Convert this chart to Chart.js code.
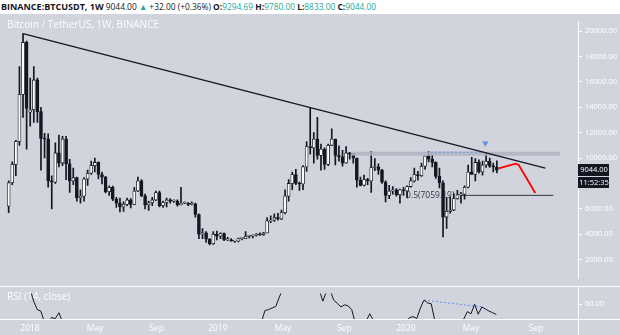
<!DOCTYPE html>
<html>
<head>
<meta charset="utf-8">
<script src="https://cdn.jsdelivr.net/npm/chart.js@4.4.0/dist/chart.umd.min.js"></script>
<style>
  html, body { margin: 0; padding: 0; background: #fff; }
  body { width: 620px; height: 335px; position: relative; overflow: hidden; font-family: "Open Sans", sans-serif; }
  #head { position: absolute; left: 1px; top: 0; height: 14px; font-size: 8.4px; line-height: 13px; color: #131722; white-space: nowrap; }
  #head b { font-weight: 700; }
  #head b.sym { font-size: 9px; }
  #head .up { color: #26a69a; }
  canvas { position: absolute; left: 0; background: #d1d4dc; }
  #price { top: 14px; }
  #rsi { top: 286px; }
</style>
</head>
<body>
<div id="head"></div>
<canvas id="price" width="620" height="272"></canvas>
<canvas id="rsi" width="620" height="49"></canvas>
<script>
// weekly candles, week index counted from the week of 1 Jan 2018
const firstWeek = -7;
const opens = [6200, 8050, 9500, 11300, 15000, 19100, 13600,
  13800, 16150, 13650, 11550, 11500, 8200, 8100, 10400, 9600, 11500, 9550, 8200, 8450, 6850, 7000, 8350, 8800, 9400, 9650, 8700, 8500, 7350, 7700, 6750, 6450, 6150, 6350, 6700, 6350, 7400, 8200, 7030, 6300, 6480, 6700, 7280, 6250, 6500, 6700, 6600, 6600, 6300, 6450, 6450, 6350, 6400, 5550, 4000, 4100, 3600, 3250, 4000,
  3850, 4050, 3550, 3550, 3450, 3450, 3650, 3650, 3830, 3850, 3900, 4000, 3950, 4100, 5050, 5100, 5300, 5200, 5700, 7000, 8000, 8700, 8000, 7950, 9300, 10900, 10800, 11500, 10200, 10700, 9500, 11000, 11500, 10200, 10100, 9600, 10400, 10300, 10000, 8250, 7850, 8300, 8200, 9250, 9300, 9050, 8100, 7050, 7400, 7500, 7100, 7500,
  7400, 7750, 8200, 8700, 8600, 9350, 10150, 9900, 9650, 8550, 8050, 5350, 5800, 5900, 6800, 7100, 7150, 7700, 8900, 8700, 9650, 8900, 9450, 9750, 9350, 9294.69];
const highs = [8200, 9700, 11400, 17200, 19800, 19200, 16300,
  17200, 16300, 14000, 11950, 11900, 8600, 11200, 11800, 11700, 11700, 9900, 9200, 8500, 7500, 8450, 9050, 9750, 9990, 9700, 8900, 8550, 7800, 7780, 6900, 6850, 6550, 6850, 6800, 7700, 8500, 8300, 7150, 6600, 6900, 7400, 7400, 6600, 6850, 6800, 6700, 6700, 7700, 6550, 6500, 6550, 6450, 5600, 4450, 4200, 3650, 4200, 4250,
  4100, 4100, 3750, 3650, 3500, 3700, 3700, 4200, 3900, 3950, 4050, 4100, 4150, 5300, 5450, 5600, 5650, 5900, 7500, 8300, 8900, 9100, 8100, 9400, 11300, 13970, 12000, 13200, 11100, 10800, 11100, 12300, 11500, 10950, 10600, 10900, 10450, 10350, 10000, 8500, 8650, 8400, 10500, 9950, 9550, 9100, 8200, 7850, 7750, 7600, 7550, 7700,
  7800, 8450, 9200, 8950, 9600, 10150, 10500, 10250, 9700, 9200, 8200, 6900, 6950, 7200, 7450, 7300, 7800, 9450, 10050, 9950, 9850, 9750, 10400, 10000, 9600, 9780];
const lows = [5700, 7900, 8600, 11000, 13200, 10700, 12500,
  12800, 12800, 9050, 10000, 7700, 6000, 8000, 9300, 9400, 8300, 7300, 7900, 6600, 6450, 6600, 7850, 8700, 8900, 8350, 7950, 7250, 7050, 6650, 6100, 5750, 5800, 6250, 6070, 6330, 7350, 6950, 6000, 5880, 6250, 6650, 6150, 6100, 6150, 6450, 6500, 6200, 6300, 6400, 6250, 6300, 5350, 3650, 3650, 3350, 3150, 3200, 3550,
  3650, 3500, 3500, 3450, 3350, 3400, 3550, 3650, 3700, 3700, 3850, 3900, 3900, 4100, 4900, 5000, 5100, 5150, 5600, 6600, 7500, 7900, 7450, 7500, 8950, 10300, 9600, 9900, 9050, 9100, 9400, 11000, 9450, 9750, 9350, 9600, 9900, 9600, 7700, 7800, 7800, 7900, 7300, 9000, 8700, 8000, 6550, 6800, 7150, 7000, 6450, 7050,
  6850, 7700, 8100, 8250, 8550, 9100, 9700, 9300, 8400, 7650, 3780, 4450, 5650, 5850, 6750, 6450, 6750, 7650, 8700, 8200, 8800, 8650, 9250, 9250, 8900, 8833];
const closes = [8050, 9500, 11300, 15000, 19100, 13900, 13800,
  16150, 13650, 11550, 11500, 8200, 8100, 10400, 9600, 11500, 9550, 8200, 8450, 6850, 7000, 8350, 8800, 9400, 9650, 8700, 8500, 7350, 7700, 6750, 6450, 6150, 6350, 6700, 6350, 7400, 8200, 7030, 6300, 6480, 6700, 7280, 6250, 6500, 6700, 6600, 6600, 6300, 6450, 6450, 6350, 6400, 5550, 4000, 4100, 3600, 3250, 4000, 3850,
  4050, 3550, 3550, 3450, 3450, 3650, 3650, 3830, 3850, 3900, 4000, 3950, 4100, 5050, 5100, 5300, 5200, 5700, 7000, 8000, 8700, 8000, 7950, 9300, 10900, 10800, 11500, 10200, 10700, 9500, 11000, 11500, 10200, 10100, 9600, 10400, 10300, 10000, 8250, 7850, 8300, 8200, 9250, 9300, 9050, 8100, 7050, 7400, 7500, 7100, 7500, 7400,
  7750, 8200, 8700, 8600, 9350, 10150, 9900, 9650, 8550, 8050, 5350, 5800, 5900, 6800, 7100, 7150, 7700, 8900, 8700, 9650, 8900, 9450, 9750, 9350, 9300, 9044];

// RSI(14) pieces that fall inside the visible band
const rsiSegStart = [0, 64, 80, 93, 104, 119];
const rsiSegValues = [
  [75, 63, 55, 53.5, 43, 42, 47.5, 46.3, 52, 43],
  [43, 54, 55, 56.5, 58, 67, 75],
  [74, 63, 72, 74, 64, 61, 57.5, 59.5, 58.5, 55, 42],
  [44, 51, 44.5],
  [44, 47.3, 48.2, 46.5, 56.5, 64, 61.3, 60.5, 44],
  [44, 46, 53, 51, 60, 50.5, 57.5, 55.5, 53.5, 52, 50.3]
];

// drawings
const trendWeeks = [-3, 142.5];
const trendPrices = [19800, 9195];
const rangeWeeks = [88.5, 146.5];
const rangePrices = [10330, 10330];
const topWeeks = [109.5, 125.5];
const topPrices = [10460, 10460];
const fibWeeks = [119, 144.7];
const fibPrices = [7059.19, 7059.19];
const fibLabelWeek = 103.7;
const pathWeeks = [129.55, 134.2, 135.1, 139.7];
const pathPrices = [9180, 9552, 9455, 7245];
const markerWeek = 125.8;
const markerPrice = 11170;
const divWeeks = [109, 125];
const divValues = [64, 57.5];

// axes
const xMin = -8.3, xMax = 151.6;
const priceMin = 512, priceMax = 20749;
const priceTicks = [2000, 4000, 6000, 10000, 12000, 14000, 16000, 18000, 20000];
const rsiMin = 46, rsiMax = 70.3;
const rsiTicks = [60];
const tickWeeks = [0, 18, 35, 52, 70, 87, 104, 122, 140];
const tickNames = ['2018', 'May', 'Sep', '2019', 'May', 'Sep', '2020', 'May', 'Sep'];
const countdown = '11:52:35';

const dark = '#131722';
const white = '#ffffff';
const blue = '#5b8ff0';

const last = closes.length - 1;
document.getElementById('head').innerHTML =
  '<b class="sym">BINANCE:BTCUSDT, 1W</b> ' + closes[last].toFixed(2) +
  ' <span class="up">&#9650;</span> +32.00 (+0.36%) ' +
  '<b>O:</b><span class="up">' + opens[last].toFixed(2) + '</span> ' +
  '<b>H:</b><span class="up">' + highs[last].toFixed(2) + '</span> ' +
  '<b>L:</b><span class="up">' + lows[last].toFixed(2) + '</span> ' +
  '<b>C:</b><span class="up">' + closes[last].toFixed(2) + '</span>';

const weeks = opens.map((_, i) => firstWeek + i);
const bodies = weeks.map((w, i) => ({ x: w, y: [opens[i], closes[i]] }));
const wicks = weeks.map((w, i) => ({ x: w, y: [lows[i], highs[i]] }));
const bodyColors = weeks.map((_, i) => closes[i] >= opens[i] ? white : dark);
const pts = (xs, ys) => xs.map((x, i) => ({ x: x, y: ys[i] }));

const line = (data, color, width, dash) => ({
  type: 'line', data: data, borderColor: color, borderWidth: width,
  borderDash: dash || [], pointRadius: 0, order: 0
});

const priceOverlay = {
  id: 'priceOverlay',
  beforeDatasetsDraw(chart) {
    const c = chart.ctx, x = chart.scales.x, y = chart.scales.y;
    c.save();
    c.font = '10px "Open Sans"';
    c.fillStyle = 'rgba(255,255,255,0.95)';
    c.textBaseline = 'middle';
    c.fillText('Bitcoin / TetherUS, 1W, BINANCE', 7, 11);
    c.fillStyle = 'rgba(19,23,34,0.85)';
    c.font = '8.5px "Open Sans"';
    c.fillText('0.5(' + fibPrices[0].toFixed(2) + ')', x.getPixelForValue(fibLabelWeek), y.getPixelForValue(fibPrices[0]));
    c.restore();
  },
  afterDraw(chart) {
    const c = chart.ctx, a = chart.chartArea, y = chart.scales.y;
    const py = Math.round(y.getPixelForValue(closes[last]));
    c.save();
    c.fillStyle = dark;
    c.fillRect(a.right, py - 6, 31, 12);
    c.fillRect(a.right, py + 7, 31, 11);
    c.fillStyle = white;
    c.font = '7.5px "Open Sans"';
    c.textBaseline = 'middle';
    c.textAlign = 'center';
    c.fillText(closes[last].toFixed(2), a.right + 16, py);
    c.fillText(countdown, a.right + 16, py + 12.5);
    c.restore();
  }
};

new Chart(document.getElementById('price'), {
  type: 'bar',
  data: {
    datasets: [
      line(pts(trendWeeks, trendPrices), dark, 1.3),
      line(pts(pathWeeks, pathPrices), '#ff0000', 1.8),
      line(pts(fibWeeks, fibPrices), 'rgba(19,23,34,0.85)', 1),
      line(pts(topWeeks, topPrices), blue, 1, [2, 2]),
      { type: 'scatter', data: [{ x: markerWeek, y: markerPrice }], pointStyle: 'triangle', rotation: 180,
        pointRadius: 3.5, backgroundColor: blue, borderWidth: 0, order: 0 },
      { data: bodies, backgroundColor: bodyColors, borderColor: dark, borderWidth: 0.8,
        borderSkipped: false, barThickness: 3, minBarLength: 1, order: 2 },
      { data: wicks, backgroundColor: dark, barThickness: 1, order: 3 },
      line(pts(rangeWeeks, rangePrices), 'rgba(176,180,190,0.85)', 4)
    ]
  },
  options: {
    responsive: false, animation: false, devicePixelRatio: 1,
    layout: { padding: 0 },
    datasets: { bar: { grouped: false } },
    plugins: { legend: { display: false }, tooltip: { enabled: false } },
    scales: {
      x: { type: 'linear', min: xMin, max: xMax, display: false, offset: false },
      y: {
        position: 'right', min: priceMin, max: priceMax,
        afterBuildTicks: s => { s.ticks = priceTicks.map(v => ({ value: v })); },
        afterFit: s => { s.width = 42; },
        ticks: { callback: v => v.toFixed(2), color: white, font: { family: 'Open Sans', size: 7.5 }, padding: 3 },
        grid: { drawOnChartArea: false, tickLength: 4, color: white },
        border: { color: white }
      }
    }
  },
  plugins: [priceOverlay]
});

const rsiPoints = [];
rsiSegStart.forEach((s, k) => {
  rsiSegValues[k].forEach((v, j) => rsiPoints.push({ x: s + j, y: v }));
  rsiPoints.push({ x: s + rsiSegValues[k].length, y: null });
});

const rsiOverlay = {
  id: 'rsiOverlay',
  afterDraw(chart) {
    const c = chart.ctx, a = chart.chartArea;
    c.save();
    c.strokeStyle = white;
    c.lineWidth = 1;
    c.beginPath();
    c.moveTo(0, 0.5); c.lineTo(chart.width, 0.5);
    c.moveTo(0, a.bottom + 0.5); c.lineTo(chart.width, a.bottom + 0.5);
    c.moveTo(a.right + 0.5, 0); c.lineTo(a.right + 0.5, chart.height);
    c.stroke();
    c.font = '10px "Open Sans"';
    c.fillStyle = 'rgba(255,255,255,0.95)';
    c.textBaseline = 'middle';
    c.fillText('RSI (14, close)', 7, 11);
    c.restore();
  }
};

new Chart(document.getElementById('rsi'), {
  type: 'line',
  data: {
    datasets: [
      { data: rsiPoints, borderColor: dark, borderWidth: 1, pointRadius: 0, spanGaps: false },
      { data: pts(divWeeks, divValues), borderColor: blue, borderWidth: 1, borderDash: [2, 2], pointRadius: 0 }
    ]
  },
  options: {
    responsive: false, animation: false, devicePixelRatio: 1,
    layout: { padding: 0 },
    plugins: { legend: { display: false }, tooltip: { enabled: false } },
    scales: {
      x: {
        type: 'linear', min: xMin, max: xMax,
        afterBuildTicks: s => { s.ticks = tickWeeks.map(v => ({ value: v })); },
        afterFit: s => { s.height = 16; },
        ticks: { callback: (v, i) => tickNames[i], color: white, font: { family: 'Open Sans', size: 8.5 },
          padding: 4, maxRotation: 0, autoSkip: false },
        grid: { display: false, drawTicks: false },
        border: { display: false }
      },
      y: {
        position: 'right', min: rsiMin, max: rsiMax,
        afterBuildTicks: s => { s.ticks = rsiTicks.map(v => ({ value: v })); },
        afterFit: s => { s.width = 42; },
        ticks: { callback: v => v.toFixed(2), color: white, font: { family: 'Open Sans', size: 7.5 }, padding: 3 },
        grid: { drawOnChartArea: false, tickLength: 4, color: white },
        border: { color: white }
      }
    }
  },
  plugins: [rsiOverlay]
});
</script>
</body>
</html>
